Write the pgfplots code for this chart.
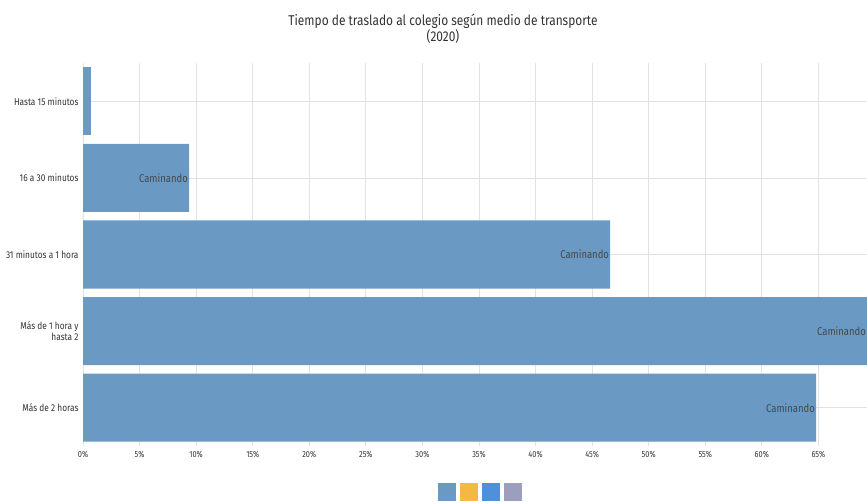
\documentclass[border=0pt]{standalone}
\usepackage{fontspec}
\setmainfont{Fira Sans}[FakeStretch=0.84]
\usepackage{pgfplots}
\pgfplotsset{compat=1.18}
\definecolor{barblue}{HTML}{6A9AC4}
\definecolor{lgyellow}{HTML}{F4B942}
\definecolor{lgblue}{HTML}{4F8FDB}
\definecolor{lgpurple}{HTML}{9B9FBD}
\definecolor{gridgray}{HTML}{E2E2E2}
\definecolor{txtgray}{HTML}{333333}
\begin{document}
\begin{tikzpicture}
\path[use as bounding box] (0,0) rectangle (867pt,501pt);
\begin{axis}[
  at={(83pt,55pt)}, anchor=south west,
  scale only axis, width=784pt, height=383pt,
  xbar, bar shift=0pt, bar width=0.888,
  xmin=0, xmax=69.3,
  ymin=-0.5, ymax=4.5, y dir=reverse,
  xtick={0,5,...,65},
  xticklabel={\pgfmathprintnumber{\tick}\%},
  ytick={0,1,2,3,4},
  yticklabels={Hasta 15 minutos,16 a 30 minutos,31 minutos a 1 hora,{Más de 1 hora y\\hasta 2},Más de 2 horas},
  yticklabel style={align=right, font=\fontsize{9.9}{11}\selectfont, text=txtgray, xshift=-1pt},
  xticklabel style={font=\fontsize{8.8}{9}\selectfont, text=txtgray, yshift=-2pt},
  /pgf/number format/assume math mode=true,
  axis line style={draw=none},
  major tick length=0pt,
  xmajorgrids, ymajorgrids,
  grid style={gridgray, line width=0.8pt},
  clip=true,
]
\addplot[fill=barblue, draw=none] coordinates {(0.71,0)};
\addplot[fill=barblue, draw=none,
  nodes near coords={Caminando},
  every node near coord/.append style={anchor=east, font=\fontsize{11.3}{12}\selectfont, text=txtgray!90, inner sep=1pt, xshift=0pt}]
  coordinates {(9.37,1) (46.6,2) (69.3,3) (64.8,4)};
\end{axis}
\node[align=center, text=txtgray, font=\fontsize{14.2}{16}\selectfont] at (443pt,472pt) {Tiempo de traslado al colegio según medio de transporte\\(2020)};
\fill[barblue] (438pt,0pt) rectangle (456pt,18pt);
\fill[lgyellow] (460pt,0pt) rectangle (478pt,18pt);
\fill[lgblue] (482pt,0pt) rectangle (500pt,18pt);
\fill[lgpurple] (504pt,0pt) rectangle (522pt,18pt);
\end{tikzpicture}
\end{document}
